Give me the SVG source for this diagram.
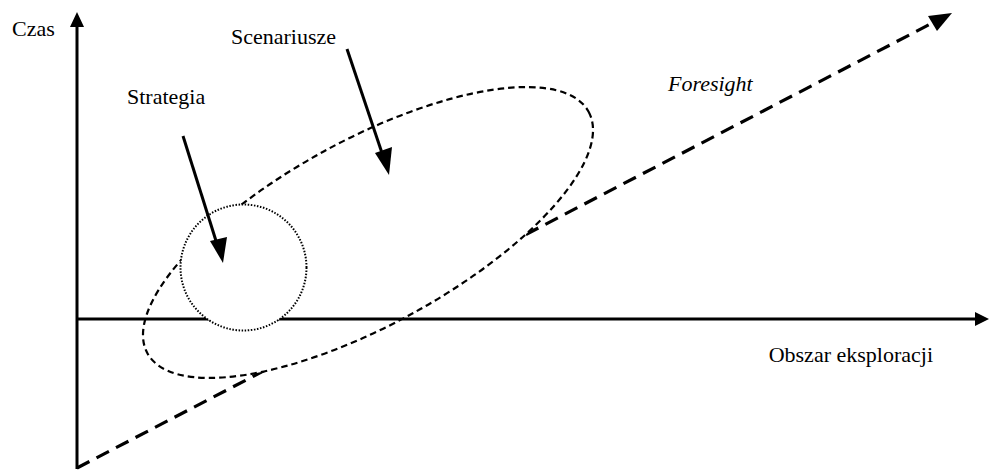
<svg xmlns="http://www.w3.org/2000/svg" width="989" height="470" viewBox="0 0 989 470">
<style>
.t{font-family:'Liberation Serif','Times New Roman',Times,serif;font-size:22px;fill:#000}
.ax{stroke:#000;stroke-width:3;fill:none}
.arr{stroke:#000;stroke-width:3;fill:none}
.head{fill:#000;stroke:none}
</style>
<rect width="989" height="470" fill="#fff"/>
<g id="connectors">
<line class="ax" x1="77" y1="469" x2="77" y2="26"/>
<polygon class="head" points="77,12 70,27 84,27"/>
<line x1="77" y1="468" x2="940" y2="19" stroke="#000" stroke-width="3.2" stroke-dasharray="14 8" fill="none"/>
<polygon class="head" points="952,13 928,16 937,31"/>
</g>
<g id="scenariusze-ellipse">
<ellipse cx="368" cy="232.5" rx="251.5" ry="92.4" transform="rotate(-28.7 368 232.5)" fill="#fff" stroke="#000" stroke-width="2.2" stroke-dasharray="6.5 4"/>
</g>
<g id="x-axis">
<line class="ax" x1="77" y1="319" x2="976" y2="319"/>
<polygon class="head" points="989,319 975,312 975,326"/>
</g>
<g id="strategia-circle">
<circle cx="243.5" cy="267.5" r="63" fill="#fff" stroke="#000" stroke-width="2" stroke-dasharray="1.5 1.6"/>
</g>
<g id="arrows">
<line class="arr" x1="183" y1="136" x2="217" y2="244"/>
<polygon class="head" points="223,263 210,241 227,237"/>
<line class="arr" x1="347" y1="49" x2="383" y2="156"/>
<polygon class="head" points="389,175 375,153 392,147"/>
</g>
<g id="labels">
<text class="t" x="12" y="36">Czas</text>
<text class="t" x="127" y="104">Strategia</text>
<text class="t" x="231" y="44">Scenariusze</text>
<text class="t" x="668" y="91" font-style="italic">Foresight</text>
<text class="t" x="933" y="362" text-anchor="end">Obszar eksploracji</text>
</g>
</svg>
